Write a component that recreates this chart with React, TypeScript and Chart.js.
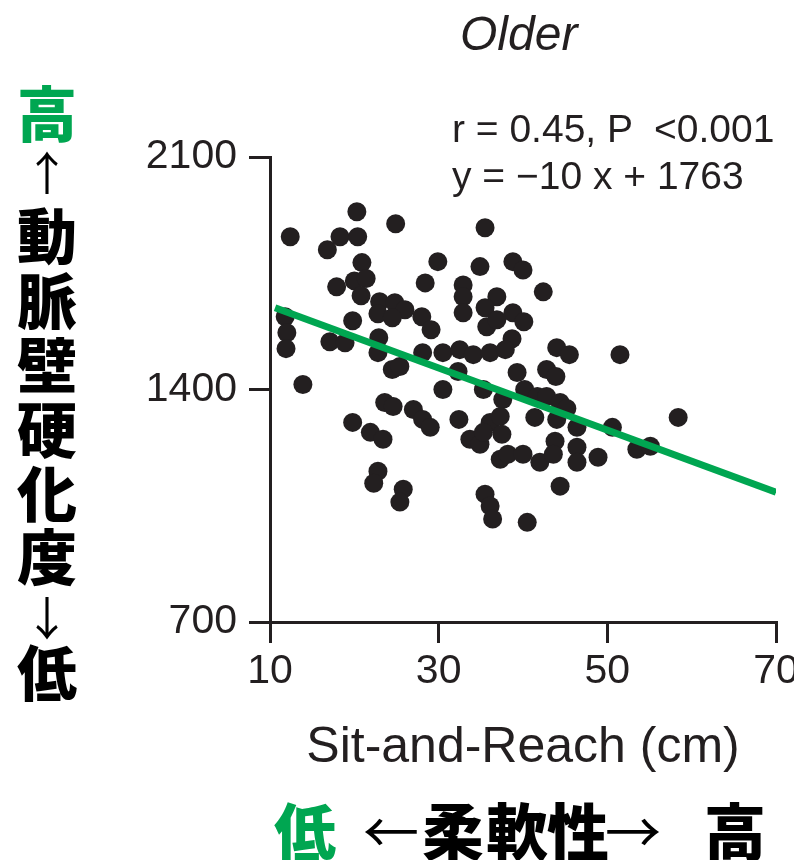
import React, { useEffect, useRef } from "react";
import { Chart, registerables } from "chart.js";

Chart.register(...registerables);

// ---- data ----
const reachCm = [
  20.3, 12.4, 16.8, 18.3, 20.4, 24.9, 35.5, 20.9, 29.9, 34.9,
  38.8, 40.0, 17.9, 20.0, 21.4, 20.8, 28.4, 32.9, 32.9, 42.4,
  36.9, 11.8, 23.0, 24.8, 26.0, 22.8, 24.5, 28.0, 29.1, 35.5,
  32.9, 38.8, 40.1, 35.7, 36.9, 38.7, 19.8, 12.0, 11.9, 17.1,
  18.9, 22.9, 28.1, 30.5, 32.5, 34.1, 36.1, 37.9, 22.8, 44.0,
  45.5, 51.5, 24.5, 25.4, 13.9, 32.3, 39.3, 42.8, 43.9, 30.5,
  35.3, 40.2, 41.7, 37.6, 42.8, 44.4, 45.2, 58.4, 23.6, 24.6,
  27.0, 28.1, 29.0, 19.8, 21.9, 23.4, 32.4, 36.1, 37.3, 33.7,
  34.9, 37.5, 35.3, 41.4, 44.0, 46.4, 50.6, 43.8, 37.3, 38.2,
  40.0, 42.0, 43.6, 46.4, 46.4, 48.9, 53.5, 55.1, 44.4, 22.8,
  22.3, 25.8, 25.4, 35.5, 36.1, 36.4, 40.5,
];
const stiffness = [
  1935, 1860, 1821, 1860, 1860, 1899, 1887, 1782, 1785, 1770,
  1785, 1760, 1709, 1727, 1734, 1682, 1721, 1715, 1679, 1694,
  1679, 1619, 1664, 1661, 1640, 1628, 1616, 1619, 1580, 1646,
  1631, 1631, 1604, 1589, 1610, 1553, 1607, 1571, 1523, 1544,
  1541, 1556, 1511, 1511, 1520, 1505, 1511, 1520, 1511, 1526,
  1505, 1505, 1460, 1469, 1415, 1454, 1451, 1460, 1439, 1400,
  1400, 1400, 1379, 1370, 1379, 1361, 1343, 1316, 1361, 1349,
  1340, 1310, 1286, 1301, 1271, 1250, 1310, 1301, 1319, 1250,
  1235, 1265, 1271, 1316, 1310, 1286, 1286, 1244, 1190, 1205,
  1205, 1181, 1205, 1226, 1181, 1196, 1220, 1229, 1109, 1154,
  1118, 1100, 1061, 1085, 1049, 1010, 1000,
];

const fitReach = [10.6, 70];
const fitStiffness = [1646, 1091];

const xTickValues = [10, 30, 50, 70];
const yTickValues = [700, 1400, 2100];

const panelTitle = "Older";
const statLine1 = "r = 0.45, P  <0.001";
const statLine2 = "y = \u221210 x + 1763";
const xAxisTitle = "Sit-and-Reach (cm)";
const yLabelChars = ["高", "↑", "動", "脈", "壁", "硬", "化", "度", "↓", "低"];
const xLabelChars = ["低", "←", "柔", "軟", "性", "→", "高"];

// ---- layout / style ----
const INK = "#231f20";
const GREEN = "#00a651";
const SANS = '"Liberation Sans", Arial, Helvetica, sans-serif';
const CJK = '"Noto Sans CJK JP", "Noto Sans CJK SC", sans-serif';

const yLabelCenters = [111, 170, 233, 298, 362, 427, 491, 554, 615, 670];
const yLabelX = 47;
const xLabelCenters = [305, 391, 453, 517, 578, 633, 735];
const xLabelY = 829;

const isArrow = (c: string) => c === "↑" || c === "↓" || c === "←" || c === "→";
const isGreen = (i: number, arr: string[]) => i === 0 && (arr[0] === "高" || arr[0] === "低");

export default function App() {
  const ref = useRef<HTMLCanvasElement>(null);

  useEffect(() => {
    const canvas = ref.current;
    if (!canvas) return;
    const chart = new Chart(canvas, {
      type: "scatter",
      data: {
        datasets: [
          {
            label: "fit",
            data: fitReach.map((x, i) => ({ x, y: fitStiffness[i] })),
            showLine: true,
            borderColor: GREEN,
            backgroundColor: GREEN,
            borderWidth: 7,
            pointRadius: 0,
            borderCapStyle: "butt",
            order: 0,
          } as any,
          {
            label: "Older",
            data: reachCm.map((x, i) => ({ x, y: stiffness[i] })),
            pointRadius: 9.5,
            pointBackgroundColor: INK,
            pointBorderWidth: 0,
            backgroundColor: INK,
            borderColor: INK,
            order: 1,
          } as any,
        ],
      },
      options: {
        animation: false,
        responsive: false,
        devicePixelRatio: 1,
        events: [],
        layout: { padding: { top: 157, right: 18, bottom: 0, left: 0 } },
        plugins: {
          legend: { display: false },
          tooltip: { enabled: false },
          title: { display: false },
        },
        scales: {
          x: {
            type: "linear",
            min: 10,
            max: 70,
            afterBuildTicks: (s: any) => {
              s.ticks = xTickValues.map((v) => ({ value: v }));
            },
            afterFit: (s: any) => {
              s.height = 238;
              s.paddingLeft = 0;
              s.paddingRight = 0;
            },
            grid: {
              display: true,
              drawOnChartArea: false,
              drawTicks: true,
              tickLength: 21,
              tickWidth: 3,
              tickColor: INK,
              color: INK,
              lineWidth: 3,
            },
            border: { display: true, color: INK, width: 3 },
            ticks: {
              font: { family: SANS, size: 41 },
              color: INK,
              padding: 4,
              maxRotation: 0,
              autoSkip: false,
              callback: (v: any) => String(v),
            },
            title: {
              display: true,
              text: xAxisTitle,
              font: { family: SANS, size: 50 },
              color: INK,
              padding: { top: 0, bottom: 82 },
            },
          },
          y: {
            type: "linear",
            min: 700,
            max: 2100,
            afterBuildTicks: (s: any) => {
              s.ticks = yTickValues.map((v) => ({ value: v }));
            },
            afterFit: (s: any) => {
              s.width = 270;
              s.paddingTop = 0;
              s.paddingBottom = 0;
            },
            grid: {
              display: true,
              drawOnChartArea: false,
              drawTicks: true,
              tickLength: 21,
              tickWidth: 3,
              tickColor: INK,
              color: INK,
              lineWidth: 3,
            },
            border: { display: true, color: INK, width: 3 },
            ticks: {
              font: { family: SANS, size: 41 },
              color: INK,
              padding: 12,
              autoSkip: false,
              callback: (v: any) => String(v),
            },
          },
        },
      } as any,
    });
    return () => chart.destroy();
  }, []);

  return (
    <div style={{ position: "absolute", left: 0, top: 0, width: 794, height: 860, background: "#fff", overflow: "hidden" }}>
      <canvas ref={ref} width={794} height={860} style={{ position: "absolute", left: 0, top: 0, width: 794, height: 860 }} />
      <div
        style={{
          position: "absolute", left: 460, top: 10, fontFamily: SANS, fontStyle: "italic",
          fontSize: 48, lineHeight: "48px", color: INK, whiteSpace: "pre",
        }}
      >
        {panelTitle}
      </div>
      <div
        style={{
          position: "absolute", left: 452, top: 105, fontFamily: SANS,
          fontSize: 39, lineHeight: "47px", color: INK, whiteSpace: "pre",
        }}
      >
        <div>{statLine1}</div>
        <div>{statLine2}</div>
      </div>
      {yLabelChars.map((c, i) => {
        const arrow = isArrow(c);
        const size = arrow ? 46 : 60;
        return (
          <div
            key={"y" + i}
            style={{
              position: "absolute", left: yLabelX - 40, top: yLabelCenters[i] - size / 2,
              width: 80, height: size, textAlign: "center", fontFamily: CJK,
              fontWeight: arrow ? 400 : 900, fontSize: size, lineHeight: size + "px",
              color: isGreen(i, yLabelChars) ? GREEN : "#000",
            }}
          >
            {c}
          </div>
        );
      })}
      {xLabelChars.map((c, i) => {
        const arrow = isArrow(c);
        const size = arrow ? 56 : 62;
        return (
          <div
            key={"x" + i}
            style={{
              position: "absolute", left: xLabelCenters[i] - 40, top: xLabelY - size / 2,
              width: 80, height: size, textAlign: "center", fontFamily: CJK,
              fontWeight: arrow ? 400 : 900, fontSize: size, lineHeight: size + "px",
              color: isGreen(i, xLabelChars) ? GREEN : "#000",
            }}
          >
            {c}
          </div>
        );
      })}
    </div>
  );
}
